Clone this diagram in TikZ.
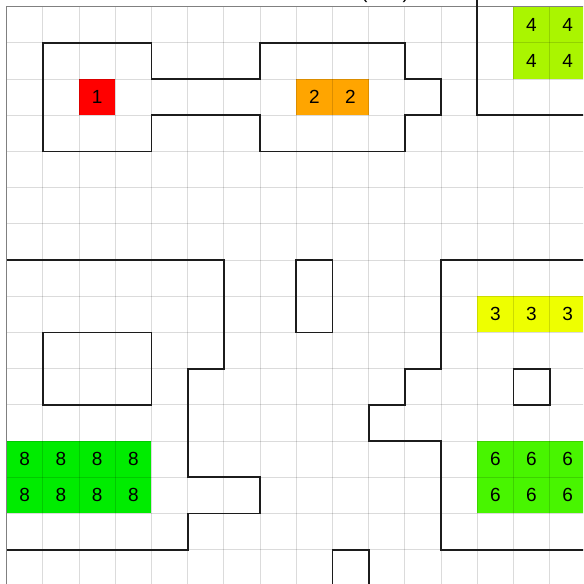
\documentclass[tikz,border=0pt]{standalone}
\usepackage{fontspec}
\setmainfont{Liberation Sans}
\definecolor{cred}{RGB}{255,0,0}
\definecolor{corange}{RGB}{255,165,0}
\definecolor{cfour}{RGB}{170,245,0}
\definecolor{cthree}{RGB}{238,255,0}
\definecolor{csix}{RGB}{72,245,0}
\definecolor{ceight}{RGB}{0,236,0}
\definecolor{wallc}{RGB}{28,28,28}
\definecolor{borderc}{RGB}{128,128,128}
\begin{document}
\begin{tikzpicture}[x=36.2pt,y=-36.2pt,
  cellbox/.style={draw=none,minimum size=36.2pt,inner sep=0pt,anchor=center,font=\fontsize{19}{19}\selectfont},
  gridline/.style={black,opacity=0.14,line width=0.8pt},
  borderline/.style={borderc,line width=1.3pt},
  wall/.style={wallc,line width=1.8pt,line join=miter}]
\useasboundingbox (-0.1823,-0.1823) rectangle (15.923,15.950);
\clip (-0.1823,-0.1823) rectangle (15.923,15.950);
\fill[white] (-0.1823,-0.1823) rectangle (15.923,15.950);
% title fragment
\node[anchor=base,inner sep=0pt,font=\fontsize{20}{20}\selectfont] (title) at (10.453,-0.2155) {(\hspace{35pt})};
% coloured cells
\node[cellbox,fill=cred] (r1) at (2.5,2.5) {1};
\node[cellbox,fill=corange] (o1) at (8.5,2.5) {2};
\node[cellbox,fill=corange] (o2) at (9.5,2.5) {2};
\foreach \c in {14,15}{\foreach \r in {0,1}{
  \node[cellbox,fill=cfour] (f\c-\r) at (\c+0.5,\r+0.5) {4};}}
\foreach \c in {13,14,15}{
  \node[cellbox,fill=cthree] (t\c) at (\c+0.5,8.5) {3};}
\foreach \c in {0,1,2,3}{\foreach \r in {12,13}{
  \node[cellbox,fill=ceight] (e\c-\r) at (\c+0.5,\r+0.5) {8};}}
\foreach \c in {13,14,15}{\foreach \r in {12,13}{
  \node[cellbox,fill=csix] (s\c-\r) at (\c+0.5,\r+0.5) {6};}}
% grid
\foreach \i in {1,...,16}{
  \draw[gridline] (\i,0) -- (\i,16.5);
  \draw[gridline] (0,\i) -- (16.5,\i);}
\draw[borderline] (0,16.5) -- (0,0) -- (16.5,0);
% walls
\draw[wall] (1,1) -- (4,1) -- (4,2) -- (7,2) -- (7,1) -- (11,1) -- (11,2) -- (12,2) -- (12,3) -- (11,3) -- (11,4) -- (7,4) -- (7,3) -- (4,3) -- (4,4) -- (1,4) -- cycle;
\draw[wall] (13,-0.5) -- (13,3) -- (16.5,3);
\draw[wall] (0,7) -- (6,7) -- (6,10) -- (5,10) -- (5,13) -- (7,13) -- (7,14) -- (5,14) -- (5,15) -- (0,15);
\draw[wall] (1,9) rectangle (4,11);
\draw[wall] (8,7) rectangle (9,9);
\draw[wall] (16.5,7) -- (12,7) -- (12,10) -- (11,10) -- (11,11) -- (10,11) -- (10,12) -- (12,12) -- (12,15) -- (16.5,15);
\draw[wall] (14,10) rectangle (15,11);
\draw[wall] (9,16.5) -- (9,15) -- (10,15) -- (10,16.5);
\end{tikzpicture}
\end{document}
